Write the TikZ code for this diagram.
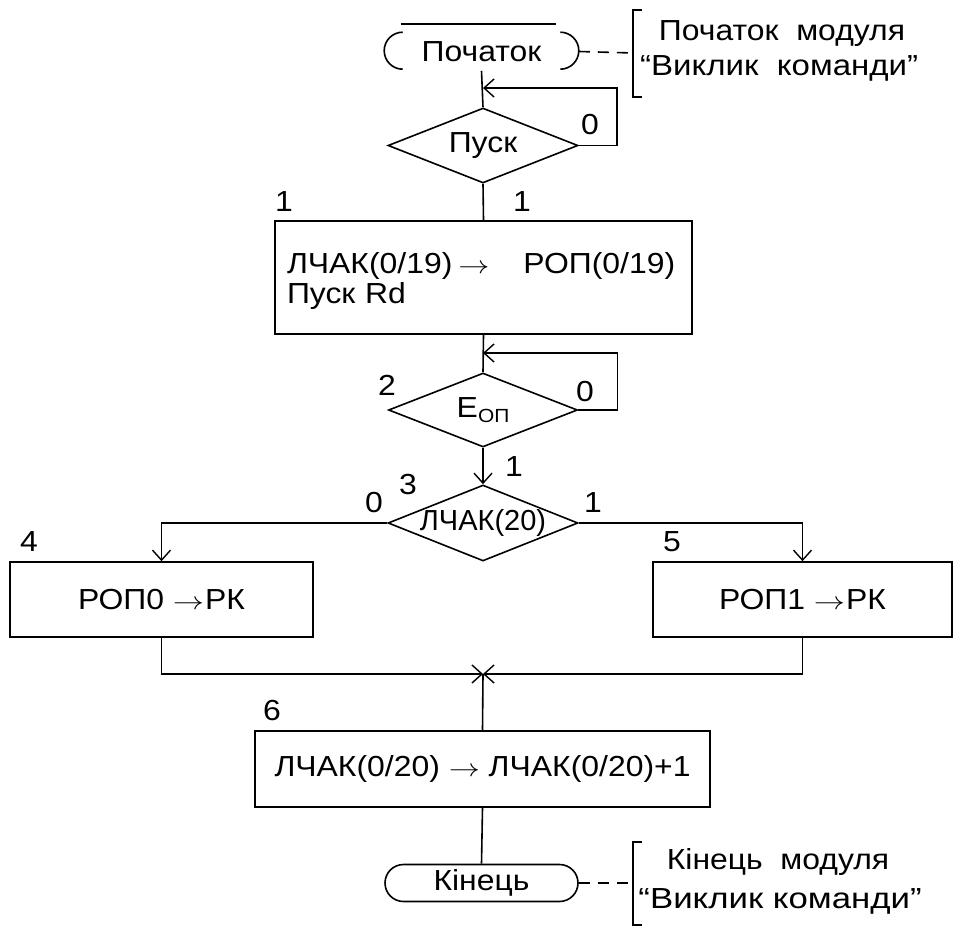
\documentclass[tikz,border=0pt]{standalone}
\usepackage{fontspec}
\setmainfont{Liberation Sans}[FakeStretch=1.10]
\newfontfamily\plainsans{Liberation Sans}
\usetikzlibrary{arrows.meta,shapes.geometric}
\newcommand{\lto}{\scalebox{1.25}[1]{$\rightarrow$}}

\begin{document}
\begin{tikzpicture}[x=1pt,y=-1pt,line width=1.6pt,
  >={Straight Barb[length=10pt,width=18pt,line width=1.4pt]},
  txt/.style={font=\fontsize{29}{30}\selectfont,inner sep=0pt},
  block/.style={draw,rectangle,inner sep=0pt,font=\fontsize{29}{30}\selectfont},
  decision/.style={draw,diamond,inner sep=0pt},
  termbox/.style={rectangle,inner sep=0pt,minimum width=193pt,minimum height=37pt,font=\fontsize{29}{30}\selectfont},
  note/.style={dash pattern=on 11pt off 8pt},
  num/.style={font=\fontsize{29}{30}\selectfont,inner sep=0pt}]
\useasboundingbox (0,0) rectangle (953,933);

% start terminal: two end arcs with a line over the top
\node[termbox] (start) at (481.5,51.5) {Початок};
\draw ([xshift=18.5pt]start.north west) arc[start angle=90,end angle=270,radius=18.5pt];
\draw ([xshift=-18.5pt]start.north east) arc[start angle=90,end angle=-90,radius=18.5pt];
\draw ([xshift=17pt,yshift=8pt]start.north west) -- ([xshift=-23pt,yshift=8pt]start.north east);

% comment bracket for the start
\coordinate (nb1) at (633,53);
\draw[note] (start.east) -- (nb1);
\draw (642,10) -- (633,10) -- (633,97) -- (642,97);
\node[txt] (n1a) at (782,34) {Початок\ \ модуля};
\node[txt] (n1b) at (779,68) {\scalebox{1.035}[1]{“Виклик\ \ команди”}};

% decision: start signal
\node[decision,minimum width=190pt,minimum height=75pt,label={[txt]center:Пуск}] (d1) at (483,145.5) {};
\coordinate (j1) at (483,88);
\draw (start.south) -- (d1.north);
\draw[->] (d1.east) -- ++(38,0) |- (j1);
\node[num] (l0a) at (590,125) {0};
\node[num] (l1a) at (522,202) {1};

% block 1
\node[block,minimum width=417pt,minimum height=113pt,text width=393pt,align=left] (b1) at (483.5,277.5)
  {\rule{0pt}{28pt}ЛЧАК(0/19)\hspace{6pt}\lto\hspace{34pt}РОП(0/19)\\Пуск Rd};
\node[num] (n1) at (284,202) {1};
\draw (d1.south) -- (b1.north);

% decision: operation end
\node[decision,minimum width=189pt,minimum height=74pt,
  label={[txt]center:E\raisebox{-5pt}{\fontsize{19}{19}\selectfont ОП}}] (d2) at (483,410) {};
\coordinate (j2) at (483,353);
\draw (b1.south) -- (d2.north);
\draw[->] (d2.east) -- ++(39,0) |- (j2);
\node[num] (n2) at (387,385) {2};
\node[num] (l0b) at (585,392) {0};
\node[num] (l1b) at (514,467) {1};

% decision: counter bit 20
\node[decision,minimum width=190pt,minimum height=76pt,
  label={[txt,font=\plainsans\fontsize{29}{30}\selectfont]center:ЛЧАК(20)}] (d3) at (483,523) {};
\draw[->] (d2.south) -- (d3.north);
\node[num] (n3) at (408,485) {3};
\node[num] (l0c) at (374,503) {0};
\node[num] (l1c) at (593,503) {1};

% branch blocks
\node[block,minimum width=303pt,minimum height=75pt] (b4) at (161.5,599.5) {РОП0 \lto\hspace{1pt}РК};
\node[block,minimum width=299pt,minimum height=75pt] (b5) at (802.5,599.5) {РОП1 \lto\hspace{1pt}РК};
\node[num] (n4) at (29,542) {4};
\node[num] (n5) at (672,542) {5};
\draw[->] (d3.west) -| (b4.north);
\draw[->] (d3.east) -| (b5.north);

% merge
\coordinate (jm) at (483,674);
\draw[->] (b4.south) |- (jm);
\draw[->] (b5.south) |- (jm);

% block 6
\node[block,minimum width=455pt,minimum height=76pt] (b6) at (482.5,769)
  {ЛЧАК(0/20) \lto\ ЛЧАК(0/20)+1};
\node[num] (n6) at (272,711) {6};
\draw (jm) -- (b6.north);

% end terminal
\node[termbox,draw,rounded corners=18.5pt] (fin) at (481.5,883) {Кінець};
\draw (b6.south) -- (fin.north);

% comment bracket for the end
\coordinate (nb2) at (633,883);
\draw[note] (fin.east) -- (nb2);
\draw (642,842) -- (633,842) -- (633,925) -- (642,925);
\node[txt] (n2a) at (778,862) {Кінець\ \ модуля};
\node[txt] (n2b) at (780,901) {\scalebox{1.09}[1]{“Виклик команди”}};
\end{tikzpicture}
\end{document}
